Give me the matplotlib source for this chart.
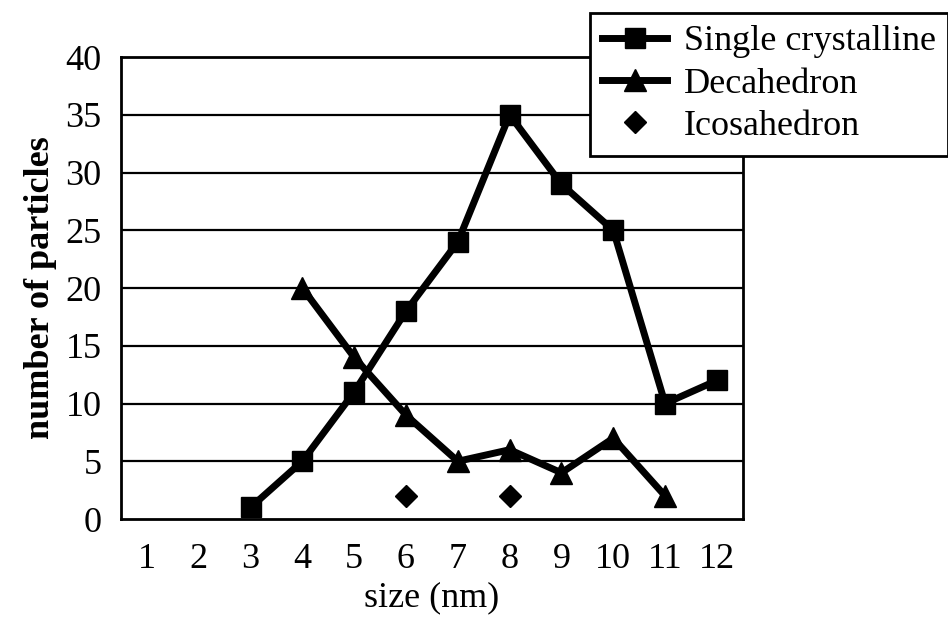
import matplotlib.pyplot as plt

# data
sizes = [1, 2, 3, 4, 5, 6, 7, 8, 9, 10, 11, 12]
single_x = [3, 4, 5, 6, 7, 8, 9, 10, 11, 12]
single_y = [1, 5, 11, 18, 24, 35, 29, 25, 10, 12]
deca_x = [4, 5, 6, 7, 8, 9, 10, 11]
deca_y = [20, 14, 9, 5, 6, 4, 7, 2]
icosa_x = [6, 8]
icosa_y = [2, 2]
y_ticks = [0, 5, 10, 15, 20, 25, 30, 35, 40]

plt.rcParams["font.family"] = ["Liberation Serif", "DejaVu Serif"]

fig = plt.figure(figsize=(9.48, 6.25), dpi=100)
ax = fig.add_axes([0.1276, 0.1696, 0.656, 0.739])

for y in y_ticks[1:-1]:
    ax.axhline(y, color="black", lw=1.6, zorder=1)

ax.plot(single_x, single_y, color="black", lw=5, marker="s", markersize=15,
        label="Single crystalline", zorder=3)
ax.plot(deca_x, deca_y, color="black", lw=5, marker="^", markersize=16,
        label="Decahedron", zorder=3)
ax.plot(icosa_x, icosa_y, color="black", lw=0, marker="D", markersize=11,
        label="Icosahedron", zorder=3)

ax.set_xlim(0.5, 12.5)
ax.set_ylim(0, 40)
ax.set_xticks(sizes)
ax.set_yticks(y_ticks)
ax.tick_params(axis="x", length=0, labelsize=26, pad=17)
ax.tick_params(axis="y", length=0, labelsize=26, pad=14)
for s in ax.spines.values():
    s.set_linewidth(2)
ax.set_xlabel("size (nm)", fontsize=26, labelpad=4)
ax.set_ylabel("number of particles", fontsize=26, fontweight="bold", labelpad=6)

leg = fig.legend(loc="upper left", bbox_to_anchor=(0.622, 0.98), fontsize=26,
                 frameon=True, fancybox=False, edgecolor="black", framealpha=1,
                 handlelength=1.8, handletextpad=0.45, borderpad=0.35,
                 labelspacing=0.25, borderaxespad=0)
leg.get_frame().set_linewidth(2)

fig.savefig("out.png", dpi=100)
